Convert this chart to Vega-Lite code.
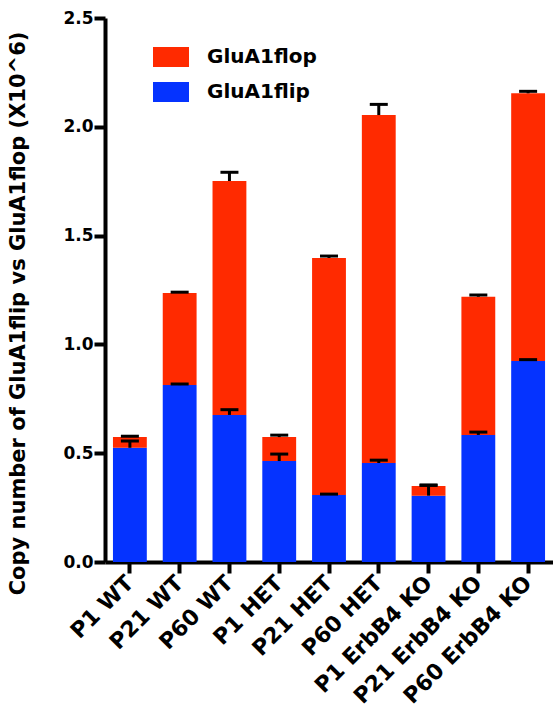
{
  "$schema": "https://vega.github.io/schema/vega-lite/v6.json",
  "autosize": "none",
  "padding": {"left": 105, "top": 18, "right": 0, "bottom": 151},
  "width": 448,
  "height": 544,
  "background": "white",
  "config": {
    "view": {"stroke": null},
    "font": "DejaVu Sans",
    "axis": {"domainColor": "black", "domainWidth": 4, "tickColor": "black", "tickWidth": 4, "grid": false, "labelColor": "black", "titleColor": "black", "labelFontWeight": "bold", "titleFontWeight": "bold", "labelFont": "DejaVu Sans", "titleFont": "DejaVu Sans"},
    "legend": {"labelFont": "DejaVu Sans"}
  },
  "data": {
    "values": [
      {"group": "P1 WT", "isoform": "GluA1flip", "value": 0.525, "top": 0.525, "upper": 0.556},
      {"group": "P1 WT", "isoform": "GluA1flop", "value": 0.049, "top": 0.574, "upper": 0.578},
      {"group": "P21 WT", "isoform": "GluA1flip", "value": 0.813, "top": 0.813, "upper": 0.818},
      {"group": "P21 WT", "isoform": "GluA1flop", "value": 0.423, "top": 1.236, "upper": 1.240},
      {"group": "P60 WT", "isoform": "GluA1flip", "value": 0.676, "top": 0.676, "upper": 0.700},
      {"group": "P60 WT", "isoform": "GluA1flop", "value": 1.075, "top": 1.751, "upper": 1.791},
      {"group": "P1 HET", "isoform": "GluA1flip", "value": 0.464, "top": 0.464, "upper": 0.496},
      {"group": "P1 HET", "isoform": "GluA1flop", "value": 0.110, "top": 0.574, "upper": 0.583},
      {"group": "P21 HET", "isoform": "GluA1flip", "value": 0.308, "top": 0.308, "upper": 0.312},
      {"group": "P21 HET", "isoform": "GluA1flop", "value": 1.089, "top": 1.397, "upper": 1.406},
      {"group": "P60 HET", "isoform": "GluA1flip", "value": 0.455, "top": 0.455, "upper": 0.468},
      {"group": "P60 HET", "isoform": "GluA1flop", "value": 1.599, "top": 2.054, "upper": 2.103},
      {"group": "P1 ErbB4 KO", "isoform": "GluA1flip", "value": 0.305, "top": 0.305, "upper": 0.354},
      {"group": "P1 ErbB4 KO", "isoform": "GluA1flop", "value": 0.044, "top": 0.349, "upper": 0.352},
      {"group": "P21 ErbB4 KO", "isoform": "GluA1flip", "value": 0.584, "top": 0.584, "upper": 0.597},
      {"group": "P21 ErbB4 KO", "isoform": "GluA1flop", "value": 0.635, "top": 1.219, "upper": 1.227},
      {"group": "P60 ErbB4 KO", "isoform": "GluA1flip", "value": 0.924, "top": 0.924, "upper": 0.930},
      {"group": "P60 ErbB4 KO", "isoform": "GluA1flop", "value": 1.230, "top": 2.154, "upper": 2.163}
    ]
  },
  "encoding": {
    "x": {
      "field": "group", "type": "nominal", "sort": null,
      "scale": {"paddingInner": 0.32, "paddingOuter": 0.16},
      "axis": {"title": null, "labelAngle": -45, "labelAlign": "right", "labelBaseline": "middle", "labelFontSize": 22, "labelPadding": 6, "tickSize": 11}
    }
  },
  "layer": [
    {
      "mark": {"type": "bar", "opacity": 1},
      "encoding": {
        "y": {
          "field": "value", "type": "quantitative", "stack": "zero",
          "scale": {"domain": [0, 2.5], "nice": false},
          "axis": {"values": [0, 0.5, 1, 1.5, 2, 2.5], "format": ".1f", "labelFontSize": 17, "labelPadding": 1, "tickSize": 11,
            "title": "Copy number of GluA1flip vs GluA1flop (X10^6)", "titleFontSize": 21, "titleX": -81, "titleY": 295, "titleBaseline": "alphabetic", "titleAngle": -90, "titleAlign": "center"}
        },
        "order": {"field": "isoform", "sort": "ascending"},
        "color": {
          "field": "isoform", "type": "nominal",
          "scale": {"domain": ["GluA1flop", "GluA1flip"], "range": ["#ff2a00", "#0533ff"]},
          "legend": {"title": null, "orient": "none", "legendX": 56, "legendY": 29, "symbolType": "M-1.8,-1H1.8V1H-1.8Z", "symbolSize": 400, "symbolStrokeWidth": 0, "symbolOpacity": 1, "labelFontSize": 20, "labelFontWeight": "bold", "labelColor": "black", "labelOffset": 26, "rowPadding": 15}
        }
      }
    },
    {
      "mark": {"type": "rule", "color": "black", "strokeWidth": 3, "opacity": 1},
      "encoding": {
        "y": {"field": "top", "type": "quantitative"},
        "y2": {"field": "upper"}
      }
    },
    {
      "mark": {"type": "tick", "color": "black", "thickness": 3, "size": 18, "orient": "horizontal", "opacity": 1},
      "encoding": {
        "y": {"field": "upper", "type": "quantitative"}
      }
    }
  ]
}
